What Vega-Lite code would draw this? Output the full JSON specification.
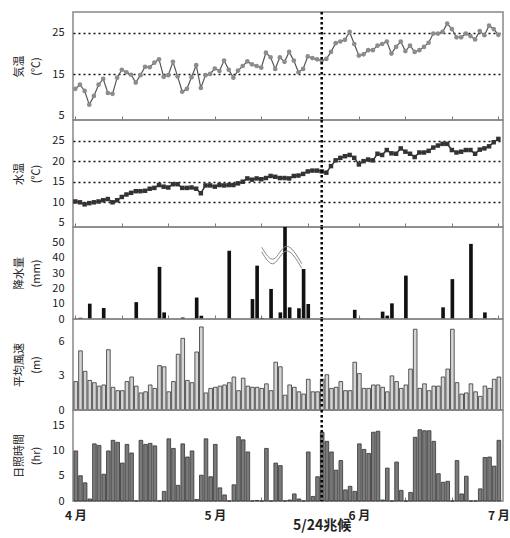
{
  "$schema": "https://vega.github.io/schema/vega-lite/v6.json",
  "background": "white",
  "padding": {"left": 12, "top": 10, "right": 4, "bottom": 4},
  "spacing": 0,
  "bounds": "flush",
  "config": {
    "font": "Noto Sans CJK JP",
    "view": {"stroke": "#888", "strokeWidth": 1.5},
    "axis": {"labelFont": "Noto Sans CJK JP", "titleFont": "Noto Sans CJK JP", "labelColor": "#222", "titleColor": "#222", "labelOverlap": false},
    "axisY": {"ticks": false, "domain": false, "labelPadding": 9, "labelFontSize": 11, "labelColor": "#222", "titleColor": "#222", "titleFontSize": 11, "titleFontWeight": "normal", "minExtent": 22, "maxExtent": 22, "titlePadding": 10, "titleLineHeight": 17, "grid": false, "labelOverlap": false},
    "axisX": {"domain": false, "grid": false, "tickSize": -4, "tickColor": "#777", "tickWidth": 1, "title": null, "labelOverlap": false}
  },
  "datasets": {
    "daily": [
      {"date":"2010-04-01","air":11.5,"water":10.2,"rain":0,"wind":2.5,"sun":9.9},
      {"date":"2010-04-02","air":12.5,"water":10.0,"rain":0.8,"wind":5.2,"sun":5.0},
      {"date":"2010-04-03","air":11.0,"water":9.5,"rain":0,"wind":3.4,"sun":3.6},
      {"date":"2010-04-04","air":7.7,"water":9.8,"rain":10,"wind":2.6,"sun":0.4},
      {"date":"2010-04-05","air":9.8,"water":10.0,"rain":0,"wind":2.4,"sun":11.3},
      {"date":"2010-04-06","air":12.5,"water":10.2,"rain":0,"wind":2.1,"sun":11.0},
      {"date":"2010-04-07","air":13.9,"water":10.5,"rain":7.2,"wind":2.2,"sun":5.3},
      {"date":"2010-04-08","air":10.5,"water":10.8,"rain":0,"wind":5.3,"sun":9.9},
      {"date":"2010-04-09","air":10.3,"water":10.0,"rain":0,"wind":2.0,"sun":12.0},
      {"date":"2010-04-10","air":14.2,"water":10.5,"rain":0,"wind":1.7,"sun":11.6},
      {"date":"2010-04-11","air":16.1,"water":11.3,"rain":0,"wind":1.7,"sun":7.5},
      {"date":"2010-04-12","air":15.5,"water":11.9,"rain":0,"wind":2.5,"sun":11.2},
      {"date":"2010-04-13","air":14.9,"water":12.3,"rain":0,"wind":2.9,"sun":9.5},
      {"date":"2010-04-14","air":13.0,"water":12.7,"rain":11,"wind":2.1,"sun":0},
      {"date":"2010-04-15","air":14.8,"water":12.7,"rain":0,"wind":1.5,"sun":12.0},
      {"date":"2010-04-16","air":16.8,"water":12.8,"rain":0,"wind":1.6,"sun":11.2},
      {"date":"2010-04-17","air":16.7,"water":13.3,"rain":0,"wind":2.2,"sun":11.4},
      {"date":"2010-04-18","air":17.8,"water":13.5,"rain":0,"wind":1.9,"sun":10.9},
      {"date":"2010-04-19","air":18.6,"water":14.2,"rain":34,"wind":3.9,"sun":0},
      {"date":"2010-04-20","air":14.4,"water":13.8,"rain":4.3,"wind":3.8,"sun":1.9},
      {"date":"2010-04-21","air":14.8,"water":13.6,"rain":0,"wind":1.6,"sun":12.3},
      {"date":"2010-04-22","air":18.0,"water":14.4,"rain":0,"wind":2.5,"sun":10.4},
      {"date":"2010-04-23","air":14.5,"water":14.4,"rain":0,"wind":4.9,"sun":3.1},
      {"date":"2010-04-24","air":10.8,"water":13.5,"rain":1,"wind":6.3,"sun":11.3},
      {"date":"2010-04-25","air":11.5,"water":13.5,"rain":0,"wind":2.6,"sun":8.7},
      {"date":"2010-04-26","air":14.3,"water":13.6,"rain":0,"wind":2.4,"sun":9.9},
      {"date":"2010-04-27","air":17.2,"water":13.3,"rain":14,"wind":5.1,"sun":0.3},
      {"date":"2010-04-28","air":11.7,"water":12.2,"rain":2.2,"wind":7.3,"sun":5.1},
      {"date":"2010-04-29","air":14.8,"water":14.1,"rain":0,"wind":1.5,"sun":12.3},
      {"date":"2010-04-30","air":15.1,"water":14.1,"rain":0,"wind":1.9,"sun":4.8},
      {"date":"2010-05-01","air":16.4,"water":13.8,"rain":0,"wind":2.0,"sun":11.2},
      {"date":"2010-05-02","air":15.8,"water":14.2,"rain":0,"wind":2.1,"sun":2.6},
      {"date":"2010-05-03","air":18.3,"water":14.1,"rain":0,"wind":2.2,"sun":1.2},
      {"date":"2010-05-04","air":16.1,"water":14.2,"rain":44.5,"wind":2.4,"sun":0},
      {"date":"2010-05-05","air":14.2,"water":14.2,"rain":0,"wind":2.9,"sun":3.2},
      {"date":"2010-05-06","air":15.9,"water":14.6,"rain":0,"wind":1.7,"sun":12.7},
      {"date":"2010-05-07","air":17.0,"water":15.0,"rain":0,"wind":2.8,"sun":12.1},
      {"date":"2010-05-08","air":18.1,"water":15.8,"rain":0,"wind":2.1,"sun":9.7},
      {"date":"2010-05-09","air":17.4,"water":15.5,"rain":13,"wind":2.0,"sun":0},
      {"date":"2010-05-10","air":17.0,"water":15.8,"rain":34.8,"wind":2.0,"sun":0.1},
      {"date":"2010-05-11","air":16.6,"water":15.6,"rain":0.7,"wind":1.9,"sun":0},
      {"date":"2010-05-12","air":20.2,"water":15.9,"rain":0,"wind":2.3,"sun":10.4},
      {"date":"2010-05-13","air":19.1,"water":16.4,"rain":19.6,"wind":1.7,"sun":0},
      {"date":"2010-05-14","air":16.3,"water":16.2,"rain":0,"wind":4.2,"sun":7.5},
      {"date":"2010-05-15","air":19.1,"water":15.9,"rain":4.3,"wind":3.8,"sun":7.0},
      {"date":"2010-05-16","air":18.0,"water":15.9,"rain":90,"wind":1.3,"sun":0},
      {"date":"2010-05-17","air":20.4,"water":15.8,"rain":7.6,"wind":2.2,"sun":0.2},
      {"date":"2010-05-18","air":18.3,"water":16.4,"rain":0,"wind":2.0,"sun":1.4},
      {"date":"2010-05-19","air":15.5,"water":16.5,"rain":7,"wind":1.6,"sun":0.4},
      {"date":"2010-05-20","air":16.3,"water":16.9,"rain":32.6,"wind":1.4,"sun":0},
      {"date":"2010-05-21","air":19.3,"water":17.5,"rain":9.8,"wind":2.7,"sun":9.7},
      {"date":"2010-05-22","air":18.9,"water":17.7,"rain":0,"wind":1.6,"sun":0.9},
      {"date":"2010-05-23","air":18.6,"water":17.7,"rain":0,"wind":1.6,"sun":4.8},
      {"date":"2010-05-24","air":18.3,"water":17.5,"rain":0,"wind":2.7,"sun":13.6},
      {"date":"2010-05-25","air":18.7,"water":17.2,"rain":0,"wind":3.1,"sun":11.8},
      {"date":"2010-05-26","air":20.4,"water":18.8,"rain":0,"wind":1.9,"sun":9.7},
      {"date":"2010-05-27","air":22.5,"water":20.2,"rain":0,"wind":2.0,"sun":6.1},
      {"date":"2010-05-28","air":22.9,"water":20.8,"rain":0,"wind":2.5,"sun":8.0},
      {"date":"2010-05-29","air":23.3,"water":21.2,"rain":0,"wind":1.7,"sun":2.2},
      {"date":"2010-05-30","air":25.2,"water":21.5,"rain":0,"wind":1.7,"sun":2.9},
      {"date":"2010-05-31","air":22.3,"water":20.8,"rain":6,"wind":4.2,"sun":1.9},
      {"date":"2010-06-01","air":19.5,"water":19.2,"rain":0.4,"wind":3.2,"sun":11.3},
      {"date":"2010-06-02","air":19.8,"water":20.0,"rain":0,"wind":1.9,"sun":10.2},
      {"date":"2010-06-03","air":20.8,"water":20.4,"rain":0,"wind":1.9,"sun":9.4},
      {"date":"2010-06-04","air":20.8,"water":20.2,"rain":0,"wind":2.2,"sun":13.6},
      {"date":"2010-06-05","air":21.9,"water":21.8,"rain":0,"wind":2.2,"sun":13.8},
      {"date":"2010-06-06","air":22.3,"water":21.5,"rain":4.8,"wind":2.0,"sun":0.2},
      {"date":"2010-06-07","air":22.9,"water":22.7,"rain":2.2,"wind":1.6,"sun":6.5},
      {"date":"2010-06-08","air":20.0,"water":21.9,"rain":10.2,"wind":3.0,"sun":0},
      {"date":"2010-06-09","air":21.6,"water":21.8,"rain":0,"wind":2.5,"sun":7.7},
      {"date":"2010-06-10","air":22.9,"water":23.1,"rain":0,"wind":1.9,"sun":2.1},
      {"date":"2010-06-11","air":20.6,"water":22.3,"rain":28.3,"wind":2.2,"sun":0},
      {"date":"2010-06-12","air":21.9,"water":21.8,"rain":0,"wind":3.6,"sun":1.7},
      {"date":"2010-06-13","air":20.4,"water":21.0,"rain":0,"wind":7.1,"sun":12.6},
      {"date":"2010-06-14","air":20.8,"water":22.1,"rain":0,"wind":1.9,"sun":14.1},
      {"date":"2010-06-15","air":21.6,"water":22.1,"rain":0,"wind":2.3,"sun":13.9},
      {"date":"2010-06-16","air":22.6,"water":22.5,"rain":0,"wind":1.7,"sun":13.9},
      {"date":"2010-06-17","air":24.8,"water":23.3,"rain":0,"wind":2.1,"sun":11.8},
      {"date":"2010-06-18","air":24.8,"water":23.8,"rain":0,"wind":2.1,"sun":5.4},
      {"date":"2010-06-19","air":25.2,"water":24.2,"rain":7.6,"wind":2.9,"sun":3.7},
      {"date":"2010-06-20","air":27.2,"water":24.2,"rain":0,"wind":3.6,"sun":3.9},
      {"date":"2010-06-21","air":25.9,"water":22.7,"rain":26,"wind":7.1,"sun":0},
      {"date":"2010-06-22","air":23.9,"water":22.1,"rain":0,"wind":2.4,"sun":8.0},
      {"date":"2010-06-23","air":23.9,"water":22.3,"rain":0,"wind":1.4,"sun":1.4},
      {"date":"2010-06-24","air":24.8,"water":22.7,"rain":0,"wind":1.5,"sun":4.9},
      {"date":"2010-06-25","air":24.2,"water":22.7,"rain":49,"wind":2.3,"sun":0},
      {"date":"2010-06-26","air":23.4,"water":21.8,"rain":0.4,"wind":1.6,"sun":0},
      {"date":"2010-06-27","air":25.4,"water":22.8,"rain":0,"wind":1.2,"sun":2.4},
      {"date":"2010-06-28","air":24.4,"water":23.1,"rain":4.3,"wind":2.1,"sun":8.6},
      {"date":"2010-06-29","air":26.7,"water":23.6,"rain":0,"wind":1.9,"sun":8.7},
      {"date":"2010-06-30","air":25.9,"water":24.6,"rain":0.4,"wind":2.7,"sun":6.9},
      {"date":"2010-07-01","air":24.5,"water":25.4,"rain":0,"wind":2.9,"sun":12.0}
    ],
    "events": [{"date":"2010-05-24","label":"5/24兆候"}],
    "wave": [
      {"t":"2010-05-11T14:00:00Z","rain":46.8,"line":"a"},
      {"t":"2010-05-14T05:00:00Z","rain":39.2,"line":"a"},
      {"t":"2010-05-16T22:00:00Z","rain":47.4,"line":"a"},
      {"t":"2010-05-20T05:00:00Z","rain":36.1,"line":"a"},
      {"t":"2010-05-11T14:00:00Z","rain":43.8,"line":"b"},
      {"t":"2010-05-14T05:00:00Z","rain":36.2,"line":"b"},
      {"t":"2010-05-16T22:00:00Z","rain":44.4,"line":"b"},
      {"t":"2010-05-20T05:00:00Z","rain":33.1,"line":"b"}
    ]
  },
  "vconcat": [
    {
      "width": 430, "height": 108,
      "layer": [
        {"data": {"name": "daily"}, "mark": {"type": "line", "color": "#555", "strokeWidth": 1.2},
         "encoding": {
           "x": {"field": "date", "type": "temporal", "timeUnit": "utcyearmonthdate", "bandPosition": 0.5,
                 "scale": {"type": "utc", "domain": [{"year":2010,"month":4,"date":1,"utc":true},{"year":2010,"month":7,"date":2,"hours":12,"utc":true}]},
                 "axis": {"labels": false, "title": null, "tickCount": 40, "values": [{"year":2010,"month":4,"date":1,"hours":12,"utc":true},{"year":2010,"month":4,"date":11,"hours":12,"utc":true},{"year":2010,"month":4,"date":21,"hours":12,"utc":true},{"year":2010,"month":5,"date":1,"hours":12,"utc":true},{"year":2010,"month":5,"date":11,"hours":12,"utc":true},{"year":2010,"month":5,"date":21,"hours":12,"utc":true},{"year":2010,"month":6,"date":1,"hours":12,"utc":true},{"year":2010,"month":6,"date":11,"hours":12,"utc":true},{"year":2010,"month":6,"date":21,"hours":12,"utc":true},{"year":2010,"month":7,"date":1,"hours":12,"utc":true}]}},
           "y": {"field": "air", "type": "quantitative", "scale": {"domain": [5, 30]},
                 "axis": {"values": [5, 15, 25], "format": "d", "tickCount": 20, "labelOverlap": false, "title": ["気温", "(℃)"], "grid": true, "gridDash": [2, 3], "gridColor": "#111", "gridWidth": 1.3,
                          "gridOpacity": {"condition": {"test": "datum.value == 5", "value": 0}, "value": 1}}}
         }},
        {"data": {"name": "daily"}, "mark": {"type": "point", "filled": true, "color": "#8c8c8c", "size": 22, "opacity": 1},
         "encoding": {
           "x": {"field": "date", "type": "temporal", "timeUnit": "utcyearmonthdate", "bandPosition": 0.5},
           "y": {"field": "air", "type": "quantitative"}
         }},
        {"data": {"name": "events"}, "mark": {"type": "rule", "color": "#000", "strokeWidth": 2.5, "strokeDash": [2.5, 2.5]},
         "encoding": {"x": {"field": "date", "type": "temporal", "timeUnit": "utcyearmonthdate", "bandPosition": 0.5}}}
      ]
    },
    {
      "width": 430, "height": 107,
      "layer": [
        {"data": {"name": "daily"}, "mark": {"type": "line", "color": "#333", "strokeWidth": 1.5},
         "encoding": {
           "x": {"field": "date", "type": "temporal", "timeUnit": "utcyearmonthdate", "bandPosition": 0.5,
                 "scale": {"type": "utc", "domain": [{"year":2010,"month":4,"date":1,"utc":true},{"year":2010,"month":7,"date":2,"hours":12,"utc":true}]},
                 "axis": {"labels": false, "title": null, "tickCount": 40, "values": [{"year":2010,"month":4,"date":1,"hours":12,"utc":true},{"year":2010,"month":4,"date":11,"hours":12,"utc":true},{"year":2010,"month":4,"date":21,"hours":12,"utc":true},{"year":2010,"month":5,"date":1,"hours":12,"utc":true},{"year":2010,"month":5,"date":11,"hours":12,"utc":true},{"year":2010,"month":5,"date":21,"hours":12,"utc":true},{"year":2010,"month":6,"date":1,"hours":12,"utc":true},{"year":2010,"month":6,"date":11,"hours":12,"utc":true},{"year":2010,"month":6,"date":21,"hours":12,"utc":true},{"year":2010,"month":7,"date":1,"hours":12,"utc":true}]}},
           "y": {"field": "water", "type": "quantitative", "scale": {"domain": [5, 30]},
                 "axis": {"values": [5, 10, 15, 20, 25], "format": "d", "tickCount": 20, "labelOverlap": false, "title": ["水温", "(℃)"], "grid": true, "gridDash": [2, 3], "gridColor": "#111", "gridWidth": 1.3,
                          "gridOpacity": {"condition": {"test": "datum.value == 5", "value": 0}, "value": 1}}}
         }},
        {"data": {"name": "daily"}, "mark": {"type": "square", "filled": true, "color": "#333", "size": 20, "opacity": 1},
         "encoding": {
           "x": {"field": "date", "type": "temporal", "timeUnit": "utcyearmonthdate", "bandPosition": 0.5},
           "y": {"field": "water", "type": "quantitative"}
         }},
        {"data": {"name": "events"}, "mark": {"type": "rule", "color": "#000", "strokeWidth": 2.5, "strokeDash": [2.5, 2.5]},
         "encoding": {"x": {"field": "date", "type": "temporal", "timeUnit": "utcyearmonthdate", "bandPosition": 0.5}}}
      ]
    },
    {
      "width": 430, "height": 92,
      "layer": [
        {"data": {"name": "daily"}, "mark": {"type": "bar", "color": "#111", "clip": true, "timeUnitBandSize": 0.8},
         "encoding": {
           "x": {"field": "date", "type": "temporal", "timeUnit": "utcyearmonthdate",
                 "scale": {"type": "utc", "domain": [{"year":2010,"month":4,"date":1,"utc":true},{"year":2010,"month":7,"date":2,"hours":12,"utc":true}]},
                 "axis": {"labels": false, "title": null, "tickCount": 40, "values": [{"year":2010,"month":4,"date":1,"hours":12,"utc":true},{"year":2010,"month":4,"date":11,"hours":12,"utc":true},{"year":2010,"month":4,"date":21,"hours":12,"utc":true},{"year":2010,"month":5,"date":1,"hours":12,"utc":true},{"year":2010,"month":5,"date":11,"hours":12,"utc":true},{"year":2010,"month":5,"date":21,"hours":12,"utc":true},{"year":2010,"month":6,"date":1,"hours":12,"utc":true},{"year":2010,"month":6,"date":11,"hours":12,"utc":true},{"year":2010,"month":6,"date":21,"hours":12,"utc":true},{"year":2010,"month":7,"date":1,"hours":12,"utc":true}]}},
           "y": {"field": "rain", "type": "quantitative", "scale": {"domain": [0, 60]},
                 "axis": {"values": [0, 10, 20, 30, 40, 50], "format": "d", "tickCount": 20, "labelOverlap": false, "title": ["降水量", "(mm)"]}}
         }},
        {"data": {"name": "wave"}, "mark": {"type": "line", "color": "#888", "strokeWidth": 1, "interpolate": "natural"},
         "encoding": {
           "x": {"field": "t", "type": "temporal"},
           "y": {"field": "rain", "type": "quantitative"},
           "detail": {"field": "line"}
         }},
        {"data": {"name": "events"}, "mark": {"type": "rule", "color": "#000", "strokeWidth": 2.5, "strokeDash": [2.5, 2.5]},
         "encoding": {"x": {"field": "date", "type": "temporal", "timeUnit": "utcyearmonthdate", "bandPosition": 0.5}}}
      ]
    },
    {
      "width": 430, "height": 91,
      "layer": [
        {"data": {"name": "daily"}, "mark": {"type": "bar", "fill": "#d4d4d4", "stroke": "#333", "strokeWidth": 0.8},
         "encoding": {
           "x": {"field": "date", "type": "temporal", "timeUnit": "utcyearmonthdate",
                 "scale": {"type": "utc", "domain": [{"year":2010,"month":4,"date":1,"utc":true},{"year":2010,"month":7,"date":2,"hours":12,"utc":true}]},
                 "axis": {"labels": false, "title": null, "tickCount": 40, "values": [{"year":2010,"month":4,"date":1,"hours":12,"utc":true},{"year":2010,"month":4,"date":11,"hours":12,"utc":true},{"year":2010,"month":4,"date":21,"hours":12,"utc":true},{"year":2010,"month":5,"date":1,"hours":12,"utc":true},{"year":2010,"month":5,"date":11,"hours":12,"utc":true},{"year":2010,"month":5,"date":21,"hours":12,"utc":true},{"year":2010,"month":6,"date":1,"hours":12,"utc":true},{"year":2010,"month":6,"date":11,"hours":12,"utc":true},{"year":2010,"month":6,"date":21,"hours":12,"utc":true},{"year":2010,"month":7,"date":1,"hours":12,"utc":true}]}},
           "y": {"field": "wind", "type": "quantitative", "scale": {"domain": [0, 8]},
                 "axis": {"values": [0, 3, 6], "format": "d", "tickCount": 20, "labelOverlap": false, "title": ["平均風速", "(m)"]}}
         }},
        {"data": {"name": "events"}, "mark": {"type": "rule", "color": "#000", "strokeWidth": 2.5, "strokeDash": [2.5, 2.5]},
         "encoding": {"x": {"field": "date", "type": "temporal", "timeUnit": "utcyearmonthdate", "bandPosition": 0.5}}}
      ]
    },
    {
      "width": 430, "height": 91,
      "layer": [
        {"data": {"name": "daily"}, "mark": {"type": "bar", "fill": "#7a7a7a", "stroke": "#333", "strokeWidth": 0.8},
         "encoding": {
           "x": {"field": "date", "type": "temporal", "timeUnit": "utcyearmonthdate",
                 "scale": {"type": "utc", "domain": [{"year":2010,"month":4,"date":1,"utc":true},{"year":2010,"month":7,"date":2,"hours":12,"utc":true}]},
                 "axis": {"labels": true, "title": null, "tickCount": 40, "labelFontWeight": "bold", "labelColor": "#222", "labelOverlap": false,
                          "labelFontSize": {"condition": {"test": "utcdate(datum.value) == 24", "value": 14}, "value": 12},
                          "labelPadding": {"condition": {"test": "utcdate(datum.value) == 24", "value": 21}, "value": 13},
                          "labelExpr": "utcdate(datum.value) == 24 ? '5/24兆候' : (utcdate(datum.value) == 1 ? (utcmonth(datum.value) + 1) + ' 月' : '')",
                          "values": [{"year":2010,"month":4,"date":1,"hours":12,"utc":true},{"year":2010,"month":4,"date":11,"hours":12,"utc":true},{"year":2010,"month":4,"date":21,"hours":12,"utc":true},{"year":2010,"month":5,"date":1,"hours":12,"utc":true},{"year":2010,"month":5,"date":11,"hours":12,"utc":true},{"year":2010,"month":5,"date":21,"hours":12,"utc":true},{"year":2010,"month":5,"date":24,"hours":12,"utc":true},{"year":2010,"month":6,"date":1,"hours":12,"utc":true},{"year":2010,"month":6,"date":11,"hours":12,"utc":true},{"year":2010,"month":6,"date":21,"hours":12,"utc":true},{"year":2010,"month":7,"date":1,"hours":12,"utc":true}]}},
           "y": {"field": "sun", "type": "quantitative", "scale": {"domain": [0, 18]},
                 "axis": {"values": [0, 5, 10, 15], "format": "d", "tickCount": 20, "labelOverlap": false, "title": ["日照時間", "(hr)"]}}
         }},
        {"data": {"name": "events"}, "mark": {"type": "rule", "color": "#000", "strokeWidth": 2.5, "strokeDash": [2.5, 2.5]},
         "encoding": {"x": {"field": "date", "type": "temporal", "timeUnit": "utcyearmonthdate", "bandPosition": 0.5}}}
      ]
    }
  ]
}
